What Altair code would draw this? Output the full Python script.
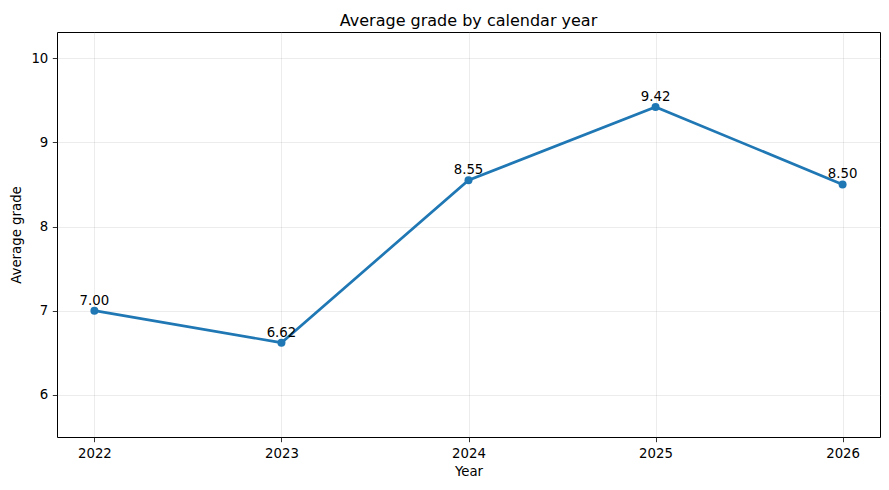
import altair as alt
import pandas as pd

years = [2022, 2023, 2024, 2025, 2026]
avg_grade = [7.00, 6.62, 8.55, 9.42, 8.50]
labels = ['7.00', '6.62', '8.55', '9.42', '8.50']

df = pd.DataFrame({'Year': years, 'grade': avg_grade, 'label': labels})

font = 'DejaVu Sans'
blue = '#1f77b4'

x = alt.X('Year:Q', scale=alt.Scale(domain=[2021.8, 2026.2], nice=False, zero=False),
          axis=alt.Axis(values=years, format='d', title='Year'))
y = alt.Y('grade:Q', scale=alt.Scale(domain=[5.5, 10.31], nice=False, zero=False),
          axis=alt.Axis(values=[6, 7, 8, 9, 10], format='d', title='Average grade',
                        titlePadding=7))

base = alt.Chart(df).encode(x=x, y=y)

line = base.mark_line(color=blue, strokeWidth=2.7)
points = base.mark_circle(color=blue, size=64, opacity=1)
text = base.mark_text(font=font, fontSize=13.3, color='black', baseline='alphabetic', dy=-6).encode(
    text='label:N')

chart = (line + points + text).properties(
    width=823, height=405,
    autosize=alt.AutoSizeParams(type='none'),
    padding={'left': 49, 'top': 24, 'right': 1, 'bottom': 43},
    title=alt.TitleParams('Average grade by calendar year', font=font, fontSize=16,
                          fontWeight='normal', color='black', anchor='middle',
                          offset=3)
).configure_view(stroke='black', strokeWidth=1
).configure_axis(
    labelFont=font, labelFontSize=13.3, labelColor='black',
    titleFont=font, titleFontSize=13.3, titleFontWeight='normal', titleColor='black',
    tickColor='black', tickSize=4.7, tickWidth=0.8, labelPadding=4.5,
    domain=False, grid=True, gridColor='#b0b0b0', gridOpacity=0.3, gridWidth=0.8,
    titlePadding=5
)

chart.save('out.html', embed_options={'renderer': 'svg', 'actions': False})
